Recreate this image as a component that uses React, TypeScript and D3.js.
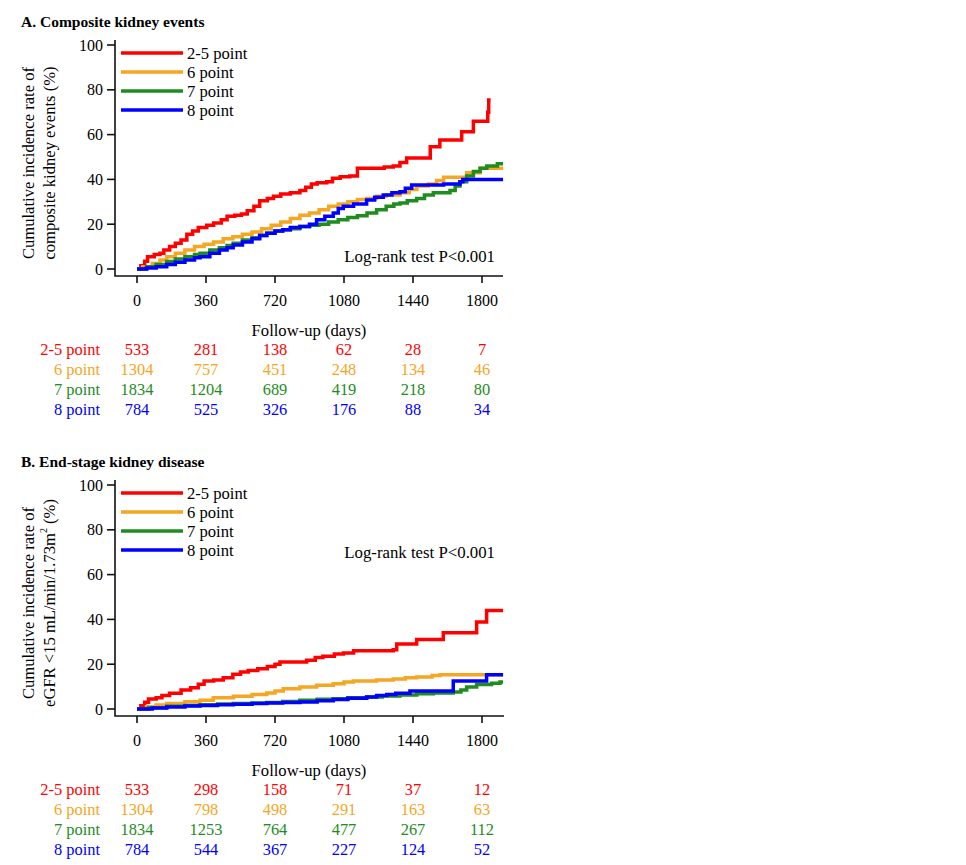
import React from 'react';
import * as d3 from 'd3';

type Pt = [number, number];

// cumulative incidence (%) step points, [day, value]
const compositeRed: Pt[] = [[0,0],[20,1.5],[40,3.5],[55,5.5],[90,6.5],[120,7],[140,8.5],[170,10],[200,11.5],[230,13],[260,15.5],[290,17],[320,18.5],[364,19.5],[400,20.5],[440,22],[470,23.5],[510,24],[545,24.5],[575,26],[610,28],[640,30.5],[680,31.5],[712,32.5],[750,33.5],[800,34],[850,35],[880,36.5],[910,38],[940,38.5],[990,39],[1020,40.5],[1060,41.2],[1110,41.5],[1150,45],[1290,45.5],[1337,46],[1372,47.5],[1407,49.5],[1530,54.6],[1580,57.6],[1694,61.3],[1755,66],[1830,70],[1835,75.5],[1845,75.5]];
const compositeOrange: Pt[] = [[0,0],[30,1],[80,2.5],[120,4],[155,5.5],[200,7],[250,8.5],[300,10],[350,11],[400,12],[450,13.5],[500,14.4],[550,15.5],[600,16.5],[650,18],[700,19.5],[750,21],[800,22.5],[850,24],[900,25],[950,26.5],[1000,28],[1050,29],[1100,30],[1150,31],[1200,31.5],[1250,32.5],[1300,33],[1372,34],[1420,35.5],[1460,37],[1520,38],[1563,39.5],[1600,41],[1720,43],[1790,45],[1910,45]];
const compositeGreen: Pt[] = [[0,0],[50,1],[100,2],[155,3.3],[200,4.5],[250,5.5],[300,6.5],[329,7],[380,8.5],[430,9.5],[470,10.5],[502,11.5],[550,13],[600,14],[640,15],[677,16],[720,17],[760,17.5],[800,18],[850,19],[900,19.5],[950,20],[1000,21],[1050,22],[1100,23],[1150,23.8],[1200,25],[1250,26.5],[1300,28],[1340,29],[1372,29.5],[1410,30.5],[1459,31.5],[1500,33],[1546,34],[1633,35],[1660,37],[1685,39],[1720,41.5],[1755,43.5],[1790,45],[1825,46],[1880,47],[1910,47]];
const compositeBlue: Pt[] = [[0,0],[50,0.5],[100,1],[155,2],[200,3],[250,4],[300,5],[329,5.5],[380,7],[430,8.5],[470,9.5],[502,10.7],[550,12],[600,13.5],[640,15],[677,16],[720,17],[760,17.5],[800,18.5],[850,19],[900,20],[937,22],[980,23.5],[1024,25],[1050,27],[1076,28],[1130,29],[1198,30.8],[1240,32],[1285,33],[1330,34],[1372,34.5],[1400,36],[1433,37.5],[1600,38],[1685,39],[1700,40],[1910,40]];

const eskdRed: Pt[] = [[0,0],[20,1.5],[40,3],[60,4.5],[100,5],[130,6],[170,7],[230,8.5],[280,9.5],[320,11],[350,12.5],[400,13],[450,14],[500,15.5],[540,16.5],[580,17.2],[630,18],[680,19],[720,20],[746,21],[885,21.8],[930,23],[970,23.5],[1030,24.5],[1077,25],[1130,26],[1337,26.5],[1355,29],[1459,31],[1598,34],[1772,38.8],[1824,44],[1910,44]];
const eskdOrange: Pt[] = [[0,0],[50,1],[100,1.8],[155,2.4],[250,3.2],[329,3.9],[398,5],[503,5.7],[600,6.5],[677,7.1],[720,8],[763,9],[850,9.8],[937,10.6],[1024,11.3],[1080,12],[1129,12.5],[1250,13],[1337,13.4],[1400,14],[1459,14.3],[1540,15],[1581,15.3],[1910,15.3]];
const eskdGreen: Pt[] = [[0,0],[60,0.6],[155,1.2],[250,1.6],[329,1.9],[420,2.2],[503,2.5],[600,2.7],[677,2.9],[760,3.4],[850,3.9],[940,4.3],[1024,4.6],[1100,5],[1198,5.4],[1280,5.8],[1372,6.3],[1460,6.8],[1546,7.1],[1650,7.6],[1690,8.5],[1720,9.8],[1772,10.9],[1850,11.5],[1894,12],[1910,12]];
const eskdBlue: Pt[] = [[0,0],[80,0.5],[155,0.9],[250,1.3],[329,1.6],[420,1.9],[503,2.1],[600,2.4],[677,2.7],[760,2.9],[850,3.1],[940,3.7],[1024,4.2],[1100,4.8],[1198,5.4],[1250,6],[1303,6.5],[1350,7],[1424,8],[1642,8],[1650,12.5],[1800,12.5],[1824,15.3],[1910,15.3]];

const groups = ['2-5 point', '6 point', '7 point', '8 point'];
const colors = ['#ff0000', '#f5a623', '#1e8c1e', '#0000ff'];
const xTicks = [0, 360, 720, 1080, 1440, 1800];
const yTicks = [0, 20, 40, 60, 80, 100];

const atRiskA = [
  [533, 281, 138, 62, 28, 7],
  [1304, 757, 451, 248, 134, 46],
  [1834, 1204, 689, 419, 218, 80],
  [784, 525, 326, 176, 88, 34],
];
const atRiskB = [
  [533, 298, 158, 71, 37, 12],
  [1304, 798, 498, 291, 163, 63],
  [1834, 1253, 764, 477, 267, 112],
  [784, 544, 367, 227, 124, 52],
];

const font = '"Liberation Serif", "Times New Roman", serif';

interface PanelProps {
  top: number;
  title: string;
  yLabel: React.ReactNode[];
  series: Pt[][];
  atRisk: number[][];
  logrankY: number;
  xEnd: number;
}

const Panel: React.FC<PanelProps> = ({ top, title, yLabel, series, atRisk, logrankY, xEnd }) => {
  const x = d3.scaleLinear().domain([0, 1800]).range([137, 482]);
  const y = d3.scaleLinear().domain([0, 100]).range([top + 247, top + 23]);
  const axisY = top + 254;
  const line = d3.line<Pt>().x(d => x(d[0])).y(d => y(d[1])).curve(d3.curveStepAfter);

  return (
    <g fontFamily={font}>
      <text x={21} y={top + 5} fontSize={15.5} fontWeight="bold">{title}</text>

      {/* y axis title */}
      <g transform={`translate(28,${top + 141}) rotate(-90)`}>
        <text textAnchor="middle" fontSize={16.6} dominantBaseline="central">{yLabel[0]}</text>
        <text y={21} textAnchor="middle" fontSize={16.6} dominantBaseline="central">{yLabel[1]}</text>
      </g>

      {/* axes */}
      <path d={`M115,${top + 18}V${axisY}H${xEnd}`} fill="none" stroke="#111" strokeWidth={1.6} />
      {yTicks.map(t => (
        <g key={t}>
          <line x1={107} x2={115} y1={y(t)} y2={y(t)} stroke="#111" strokeWidth={1.6} />
          <text x={103} y={y(t)} textAnchor="end" dominantBaseline="central" fontSize={16}>{t}</text>
        </g>
      ))}
      {xTicks.map(t => (
        <g key={t}>
          <line x1={x(t)} x2={x(t)} y1={axisY} y2={axisY + 7} stroke="#111" strokeWidth={1.6} />
          <text x={x(t)} y={axisY + 24} textAnchor="middle" dominantBaseline="central" fontSize={16}>{t}</text>
        </g>
      ))}
      <text x={309} y={top + 308} textAnchor="middle" dominantBaseline="central" fontSize={16.6}>Follow-up (days)</text>

      {/* curves */}
      {series.map((s, i) => (
        <path key={i} d={line(s) ?? ''} fill="none" stroke={colors[i]} strokeWidth={3.5} />
      ))}

      {/* legend */}
      {groups.map((g, i) => (
        <g key={g}>
          <line x1={121} x2={183} y1={top + 31 + i * 19} y2={top + 31 + i * 19} stroke={colors[i]} strokeWidth={3.5} />
          <text x={187} y={top + 31 + i * 19} dominantBaseline="central" fontSize={16.6}>{g}</text>
        </g>
      ))}

      <text x={495} y={logrankY} textAnchor="end" dominantBaseline="central" fontSize={16.8}>Log-rank test P&lt;0.001</text>

      {/* numbers at risk */}
      {atRisk.map((row, i) => (
        <g key={i} fill={colors[i]} fontSize={16.4}>
          <text x={100} y={top + 327 + i * 20} textAnchor="end" dominantBaseline="central">{groups[i]}</text>
          {row.map((n, j) => (
            <text key={j} x={x(xTicks[j])} y={top + 327 + i * 20} textAnchor="middle" dominantBaseline="central">{n}</text>
          ))}
        </g>
      ))}
    </g>
  );
};

export default function App() {
  return (
    <svg width={966} height={865} style={{ position: 'absolute', left: 0, top: 0, background: '#fff' }}>
      <Panel
        top={22}
        title="A. Composite kidney events"
        yLabel={['Cumulative incidence rate of', 'composite kidney events (%)']}
        series={[compositeRed, compositeOrange, compositeGreen, compositeBlue]}
        atRisk={atRiskA}
        logrankY={256}
        xEnd={503}
      />
      <Panel
        top={462}
        title="B. End-stage kidney disease"
        yLabel={[
          'Cumulative incidence rate of',
          <tspan key="b">eGFR &lt;15 mL/min/1.73m<tspan fontSize={10} dy={-6}>2</tspan><tspan dy={6}> (%)</tspan></tspan>,
        ]}
        series={[eskdRed, eskdOrange, eskdGreen, eskdBlue]}
        atRisk={atRiskB}
        logrankY={552}
        xEnd={504}
      />
    </svg>
  );
}
